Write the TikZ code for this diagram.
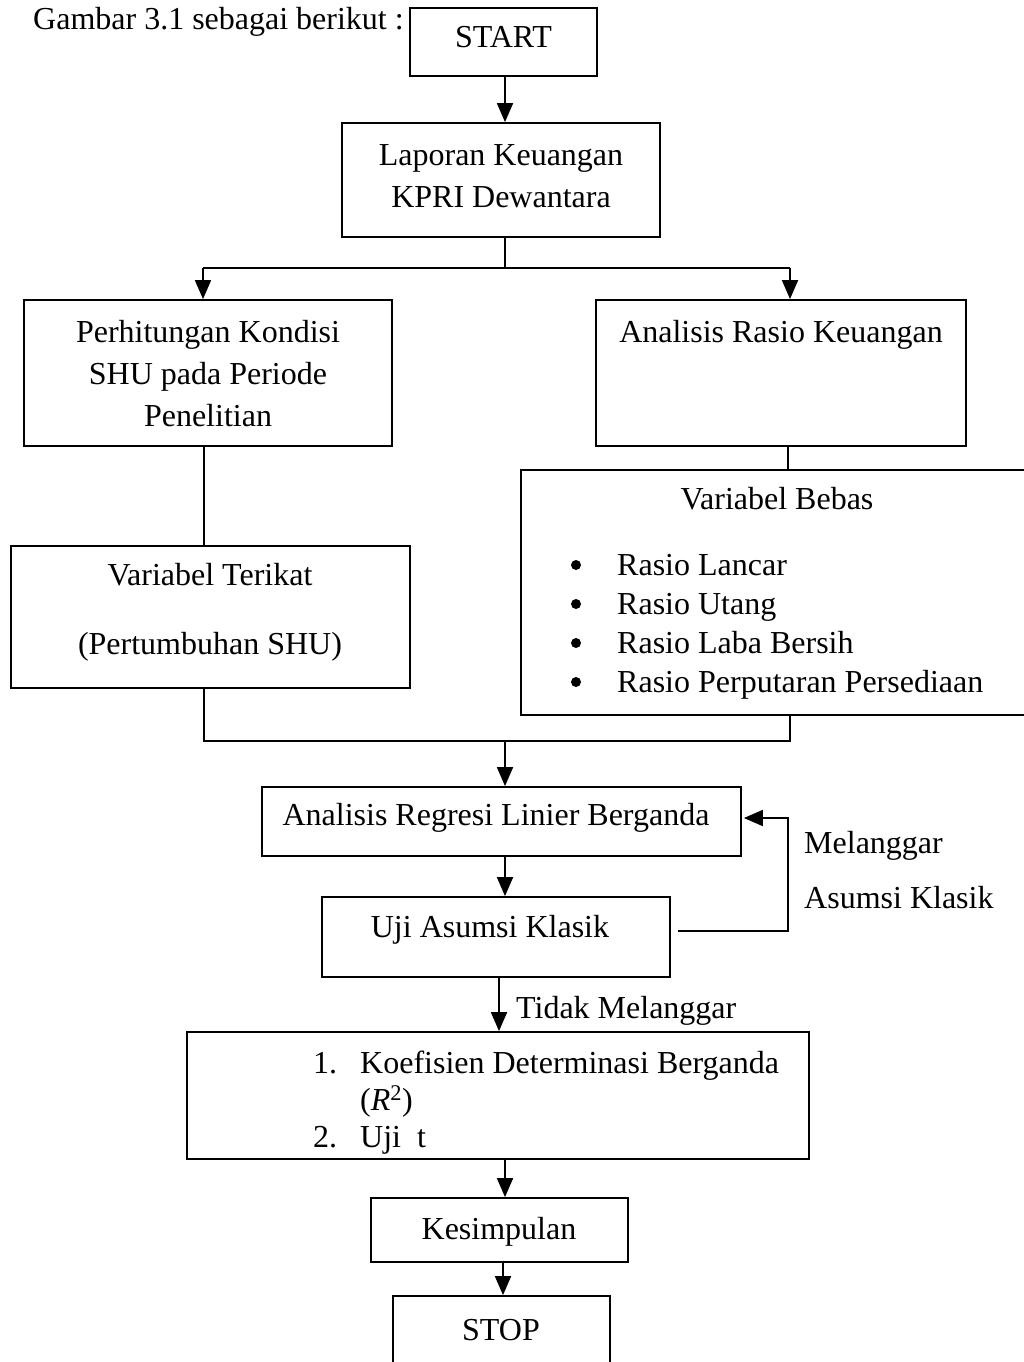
\documentclass[tikz,border=0pt]{standalone}
\usepackage{fontspec}
\setmainfont{Liberation Serif}
\usetikzlibrary{arrows.meta}
\begin{document}
\begin{tikzpicture}[x=1pt,y=-1pt,
  box/.style={draw,line width=1.8pt,rectangle,inner sep=0pt},
  conn/.style={line width=1.8pt},
  arr/.style={line width=1.8pt,-{Triangle[length=19pt,width=16pt]}},
  txt/.style={anchor=base,inner sep=0pt,font=\fontsize{32}{38}\selectfont},
  txtw/.style={anchor=base west,inner sep=0pt,font=\fontsize{32}{38}\selectfont}]
\useasboundingbox (0,0) rectangle (1024,1362);
\clip (0,0) rectangle (1024,1362);
\fill[white] (0,0) rectangle (1024,1362);
% boxes
\node[box,minimum width=187pt,minimum height=68pt] (start) at (503.5,42) {};
\node[box,minimum width=318pt,minimum height=114pt] (lap) at (501,180) {};
\node[box,minimum width=368pt,minimum height=146pt] (perh) at (208,373) {};
\node[box,minimum width=370pt,minimum height=146pt] (ara) at (781,373) {};
\node[box,minimum width=399pt,minimum height=142pt] (terikat) at (210.5,617) {};
\node[box,minimum width=519pt,minimum height=245pt] (bebas) at (780.5,592.5) {};
\node[box,minimum width=479pt,minimum height=69pt] (regresi) at (501.5,821.5) {};
\node[box,minimum width=348pt,minimum height=80pt] (uji) at (496,937) {};
\node[box,minimum width=622pt,minimum height=127pt] (koef) at (498,1095.5) {};
\node[box,minimum width=257pt,minimum height=64pt] (kes) at (499.5,1230) {};
\node[box,minimum width=217pt,minimum height=84pt] (stop) at (501.5,1338) {};
% texts
\node[txtw] (title) at (33,30) {Gambar 3.1 sebagai berikut :};
\node[txt] (tstart) at (503.5,48) {START};
\node[txt] (tlap1) at (501,165) {Laporan Keuangan};
\node[txt] (tlap2) at (501,207) {KPRI Dewantara};
\node[txt] (tper1) at (208,342) {Perhitungan Kondisi};
\node[txt] (tper2) at (208,384) {SHU pada Periode};
\node[txt] (tper3) at (208,426) {Penelitian};
\node[txt] (tara) at (781,342) {Analisis Rasio Keuangan};
\node[txt] (tter1) at (210,585) {Variabel Terikat};
\node[txt] (tter2) at (210,654) {(Pertumbuhan SHU)};
\node[txt] (tbeb) at (777,509) {Variabel Bebas};
\foreach \yy/\tt [count=\i] in {575/Rasio Lancar,614/Rasio Utang,653/Rasio Laba Bersih,692/Rasio Perputaran Persediaan}{
  \fill (576,\yy-10) circle (5pt);
  \node[txtw] (tb\i) at (617,\yy) {\tt};
}
\node[txt] (treg) at (496,825) {Analisis Regresi Linier Berganda};
\node[txt] (tuji) at (490,937) {Uji Asumsi Klasik};
\node[txtw] (tmel1) at (804,853) {Melanggar};
\node[txtw] (tmel2) at (804,908) {Asumsi Klasik};
\node[txtw] (ttid) at (516,1018) {Tidak Melanggar};
\node[txtw] (tk1n) at (313,1073) {1.};
\node[txtw] (tk1) at (360,1073) {Koefisien Determinasi Berganda};
\node[txtw] (tk2) at (360,1110) {({\itshape R}\textsuperscript{2})};
\node[txtw] (tk3n) at (313,1147) {2.};
\node[txtw] (tk3) at (360,1147) {Uji\hspace{0.5em}t};
\node[txt] (tkes) at (499,1239) {Kesimpulan};
\node[txt] (tstop) at (501,1340) {STOP};
% connectors
\coordinate (c1) at (505,0);
\draw[arr] (c1 |- start.south) -- (c1 |- lap.north);
\coordinate (sl) at (203,268);
\coordinate (sr) at (790,268);
\draw[conn] (c1 |- lap.south) -- (c1 |- sl);
\draw[conn] (sl) -- (sr);
\draw[arr] (sl) -- (sl |- perh.north);
\draw[arr] (sr) -- (sr |- ara.north);
\coordinate (c2) at (204,0);
\draw[conn] (c2 |- perh.south) -- (c2 |- terikat.north);
\coordinate (c3) at (788,0);
\draw[conn] (c3 |- ara.south) -- (c3 |- bebas.north);
\coordinate (ml) at (204,741);
\coordinate (mr) at (790,741);
\draw[conn] (ml |- terikat.south) -- (ml) -- (mr) -- (mr |- bebas.south);
\coordinate (mm) at (505,741);
\draw[arr] (mm) -- (mm |- regresi.north);
\draw[arr] (mm |- regresi.south) -- (mm |- uji.north);
\coordinate (c4) at (499,0);
\draw[arr] (c4 |- uji.south) -- (c4 |- koef.north);
\draw[arr] (mm |- koef.south) -- (mm |- kes.north);
\coordinate (c5) at (503,0);
\draw[arr] (c5 |- kes.south) -- (c5 |- stop.north);
\coordinate (lp1) at (678,931);
\coordinate (lp2) at (788,931);
\coordinate (lp3) at (788,818);
\draw[arr,shorten >=2pt] (lp1) -- (lp2) -- (lp3) -- (regresi.east |- lp3);
\end{tikzpicture}
\end{document}
